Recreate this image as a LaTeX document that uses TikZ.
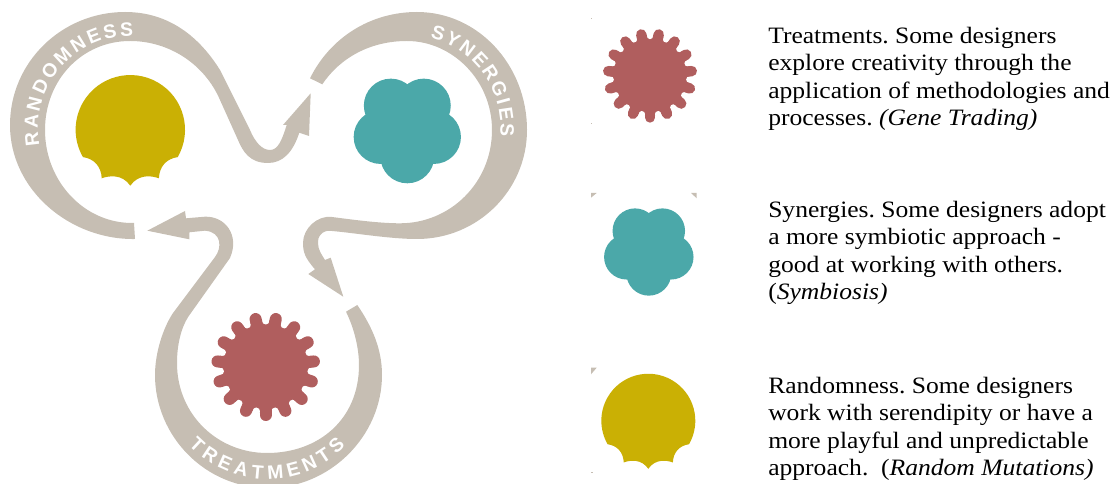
\documentclass[tikz,border=0pt]{standalone}
\usepackage{xcolor}
\usepackage{fontspec}
\usetikzlibrary{decorations.text}
\setmainfont[FakeStretch=1.09]{Liberation Serif}
\newfontfamily\ribbonfont{Liberation Sans}
\definecolor{ribbonbeige}{RGB}{198,190,179}
\definecolor{cogred}{RGB}{176,94,94}
\definecolor{flowerteal}{RGB}{75,168,169}
\definecolor{blobyellow}{RGB}{202,176,4}
\tikzset{
	ribbon/.style={fill=ribbonbeige},
	caption/.style={anchor=north west,align=left,inner sep=0pt,font=\fontsize{17.6}{20.7}\selectfont\frenchspacing},
	ribbontext/.style={decorate,decoration={text along path,text align={fit to path},text={|\ribbonfont\bfseries\fontsize{14.5}{14.5}\selectfont\color{white}|#1}}}
}
\newcommand{\drawcog}[3]{
	\begin{scope}[shift={(#1,#2)},scale=#3]
		\fill[cogred] (0,0) circle (46.5);
		\foreach \a in {0,24,...,336}
			\fill[white] (90+12+\a:46) circle (4);
		\foreach \a in {0,24,...,336}
			\draw[cogred,line width=#3*9pt,line cap=round] (90+\a:38) -- (90+\a:48.5);
	\end{scope}
}
\newcommand{\drawflower}[3]{
	\begin{scope}[shift={(#1,#2)},scale=#3]
		\fill[flowerteal] (0,0) circle (20);
		\foreach \a in {90,162,234,306,18}
			\fill[flowerteal] (\a:28) circle (27);
	\end{scope}
}
\newcommand{\drawblob}[3]{
	\fill[blobyellow,shift={(#1,#2)},scale=#3] (47.4,27.4) arc[start angle=30,end angle=-210,radius=54.7]
		.. controls (-36,29) and (-29,37) .. (-28.6,48.6)
		.. controls (-21,45.8) and (-8,44.3) .. (0,56)
		.. controls (8,44.3) and (21,45.8) .. (28.6,48.6)
		.. controls (29,37) and (36,29) .. cycle;
}

\begin{document}
\begin{tikzpicture}[x=0.75pt,y=-0.75pt]
	\path[use as bounding box,clip] (0,0) rectangle (1114,484);
	% randomness ribbon
	\fill[ribbon] (135,239) .. controls (70,240) and (10,190) .. (10,125)
		.. controls (10,62) and (62,12) .. (125,12)
		.. controls (170,12) and (200,38) .. (220,70) -- (250,130)
		.. controls (255,142) and (262,150) .. (270,150)
		.. controls (278,150) and (282,140) .. (286.7,125)
		-- (283,125) -- (310.7,93.3) -- (309,136) -- (299.3,132.7)
		.. controls (293,152) and (283,163) .. (268,163)
		.. controls (250,163) and (243,152) .. (238,140) -- (220,100)
		.. controls (205,65) and (170,41) .. (130,41)
		.. controls (82,41) and (45,80) .. (45,130)
		.. controls (45,182) and (85,224) .. (134,223) -- cycle;
	% synergies ribbon
	\fill[ribbon] (310,78.3) .. controls (330,38) and (370,12) .. (417,12)
		.. controls (478,12) and (527,65) .. (527,130)
		.. controls (527,190) and (478,239) .. (417,239)
		.. controls (390,239) and (355,233) .. (332,231)
		.. controls (322,229) and (317,238) .. (318,243)
		.. controls (318,250) and (322,255) .. (325,260)
		-- (330.7,257.7) -- (343.3,296.7) -- (308.3,274) -- (315,269.3)
		.. controls (305,258) and (303,252) .. (303,243)
		.. controls (303,228) and (318,215) .. (332,217)
		.. controls (355,220) and (380,223.3) .. (400,223.3)
		.. controls (450,223.3) and (492,183) .. (492,130)
		.. controls (492,80) and (452,41) .. (407,41)
		.. controls (370,41) and (340,58) .. (322.3,84.3) -- cycle;
	% treatments ribbon
	\fill[ribbon] (357.3,305) .. controls (373,328) and (382,350) .. (382,375)
		.. controls (382,436) and (330,488) .. (268,488)
		.. controls (205,488) and (155,436) .. (155,375)
		.. controls (155,353) and (163,328) .. (173,313) -- (215,257)
		.. controls (222,248) and (222,232) .. (205,230.7)
		-- (189.3,232.3) -- (189.3,239.3) -- (147.3,230.7) -- (185,211) -- (186,218.3)
		-- (205,216.7) .. controls (225,216) and (240,235) .. (230,258)
		-- (188.3,316.7) .. controls (181,328) and (177,345) .. (177,363)
		.. controls (177,415) and (218,453) .. (267,453)
		.. controls (318,453) and (359,420) .. (359,365)
		.. controls (359,350) and (355,330) .. (346,311.7) -- cycle;
	% ribbon labels
	\path[ribbontext=RANDOMNESS] (130,128) ++(169:92) arc[start angle=169,end angle=272,radius=92];
	\path[ribbontext=SYNERGIES] (407,130) ++(-76:95) arc[start angle=-76,end angle=5,radius=93];
	\path[ribbontext=TREATMENTS] (267,370) ++(136:109) arc[start angle=136,end angle=44,radius=109];
	% shapes
	\drawblob{130.3}{129.7}{1}
	\drawflower{407.3}{128.3}{1}
	\drawcog{265.7}{366.5}{1}
	\drawcog{650}{75.5}{0.866}
	\drawflower{648.8}{249.8}{0.834}
	\drawblob{648.3}{420.7}{0.859}
	% crop marks left in the legend
	\fill[ribbon] (591,193) -- (596.7,193) -- (591,197.7) -- cycle;
	\fill[ribbon] (691,193) -- (696.7,193) -- (696.7,198.3) -- cycle;
	\fill[ribbon] (591,367.7) -- (596.7,367.7) -- (591,374.3) -- cycle;
	\fill[ribbon] (591,472) rectangle (592.5,473.5);
	\fill[ribbon] (591,18) rectangle (592,19);
	\fill[ribbon] (591,123) rectangle (592,124);
	% captions
	\node[caption] (treatments) at (768,26.5) {Treatments. Some designers\\explore creativity through the\\application of methodologies and\\processes. \textit{(Gene Trading)}};
	\node[caption] (synergies) at (768,200.5) {Synergies. Some designers adopt\\a more symbiotic approach -\\good at working with others.\\(\textit{Symbiosis)}};
	\node[caption] (randomness) at (768,376.5) {Randomness. Some designers\\work with serendipity or have a\\more playful and unpredictable\\approach.~~(\textit{Random Mutations)}};
\end{tikzpicture}
\end{document}
